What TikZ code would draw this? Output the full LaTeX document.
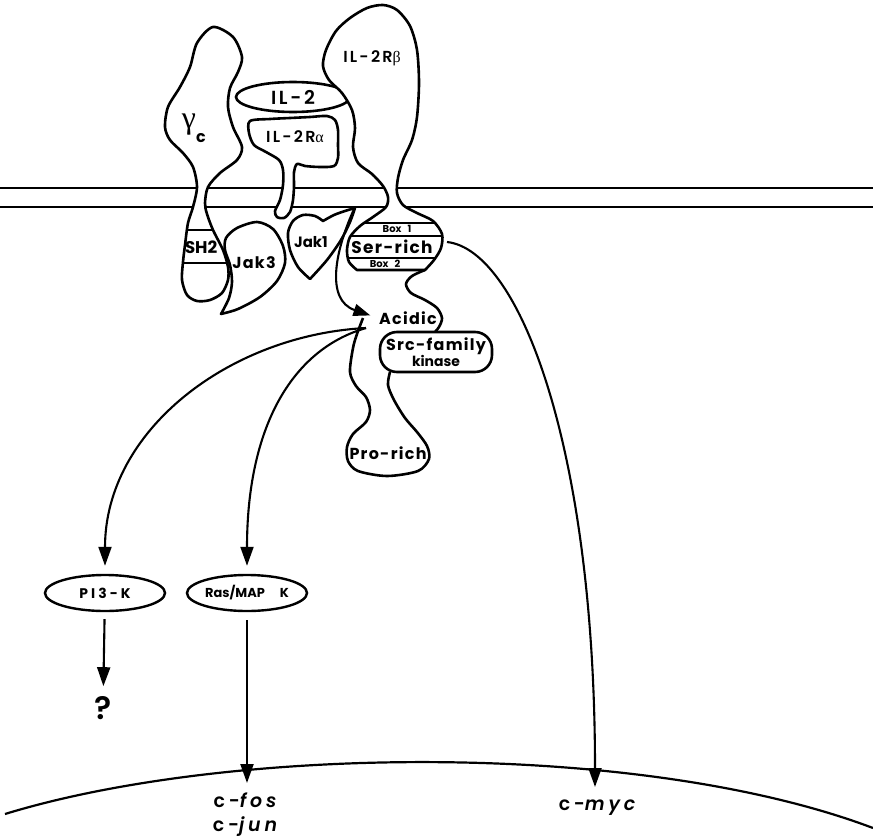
\documentclass[tikz,border=0pt]{standalone}
\usepackage{fontspec}
\setmainfont{Poppins}
\newfontfamily\grk{Liberation Serif}
\newfontfamily\labm{Poppins SemiBold}[LetterSpace=14]
\newfontfamily\labb{Poppins}[LetterSpace=8]
\newfontfamily\labw{Poppins}[LetterSpace=22]
\newfontfamily\labr{Poppins SemiBold}[LetterSpace=20,ItalicFont={Poppins SemiBold Italic}]
\newfontfamily\labq{Poppins SemiBold}
\newcommand\setfs[1]{\fontsize{#1}{#1}\selectfont}
\usetikzlibrary{arrows.meta,shapes.geometric}

\begin{document}
\begin{tikzpicture}[x=1bp,y=-1bp,
  outline/.style={line width=2.6bp,line join=round,fill=white},
  rim/.style={line width=2.6bp,line join=round},
  memb/.style={line width=2.4bp},
  conn/.style={line width=2.1bp,-{Triangle[length=19bp,width=13bp]}},
  lab/.style={inner sep=1bp},
  oval/.style={draw,ellipse,line width=2.4bp,fill=white,inner sep=0pt}]

\useasboundingbox (0,0) rectangle (873,840);

% plasma membrane
\draw[memb] (0,188) -- (873,188);
\draw[memb] (0,207) -- (873,207);

% nuclear envelope
\draw[line width=2.2bp] (5,814) .. controls (230,745) and (640,740) .. (873,828);

% gamma-c chain
\draw[outline] plot[smooth cycle] coordinates {(213,27) (233,37) (242,57) (238,72) (230,88) (228,107) (233,127) (242,147) (237,160) (220,173) (208,187) (205,203) (207,214) (213,230) (223,250) (228,267) (228,280) (222,293) (210,300) (197,301) (187,295) (182,280) (183,262) (185,245) (188,223) (193,207) (197,187) (193,167) (183,153) (170,140) (165,127) (168,107) (180,87) (190,67) (197,43)};
\begin{scope}
  \clip plot[smooth cycle] coordinates {(213,27) (233,37) (242,57) (238,72) (230,88) (228,107) (233,127) (242,147) (237,160) (220,173) (208,187) (205,203) (207,214) (213,230) (223,250) (228,267) (228,280) (222,293) (210,300) (197,301) (187,295) (182,280) (183,262) (185,245) (188,223) (193,207) (197,187) (193,167) (183,153) (170,140) (165,127) (168,107) (180,87) (190,67) (197,43)};
  \draw[line width=2.2bp] (170,230) -- (240,230);
  \draw[line width=2.2bp] (170,263) -- (240,263);
\end{scope}

% Jak3
\draw[outline] plot[smooth] coordinates {(221,314) (229,298) (232,282) (230,265) (225,250) (226,238) (237,228) (257,222) (273,229) (283,246) (285,263) (277,281) (260,297) (238,309) (221,314)} -- cycle;

% IL-2R alpha
\draw[outline] plot[smooth cycle] coordinates {(250,121) (270,119) (290,118) (310,117) (327,116) (335,120) (338,130) (338,145) (338,158) (334,166) (320,167) (305,166) (297,164) (294,172) (294,186) (293,200) (290,212) (284,218) (277,217) (275,211) (280,200) (283,185) (283,170) (279,160) (266,152) (254,145) (249,133)};

% IL-2
\node[oval,line width=2.6bp,minimum width=114bp,minimum height=30bp] (il2) at (293,97)
  {\labm\setfs{19}IL-2};

% IL-2R beta with its Ser-rich region
\draw[outline] plot[smooth] coordinates {(357,270) (349,262) (347,250) (350,237) (360,226) (373,217) (386,207) (388,197) (383,186) (372,174) (358,163) (353,147) (355,128) (352,110) (342,93) (329,80) (323,66) (326,50) (336,31) (350,18) (367,8) (383,5) (397,10) (410,26) (417,50) (419,83) (417,117) (412,140) (403,160) (398,178) (397,193) (403,205) (417,213) (433,221) (442,234) (441,248) (434,260) (425,270)} -- cycle;
\begin{scope}
  \clip plot[smooth] coordinates {(357,270) (349,262) (347,250) (350,237) (360,226) (373,217) (386,207) (388,197) (383,186) (372,174) (358,163) (353,147) (355,128) (352,110) (342,93) (329,80) (323,66) (326,50) (336,31) (350,18) (367,8) (383,5) (397,10) (410,26) (417,50) (419,83) (417,117) (412,140) (403,160) (398,178) (397,193) (403,205) (417,213) (433,221) (442,234) (441,248) (434,260) (425,270)} -- cycle;
  \draw[line width=2.2bp] (330,223) -- (460,223);
  \draw[line width=2.2bp] (330,236) -- (460,236);
  \draw[line width=2.2bp] (330,258) -- (460,258);
\end{scope}
\draw[rim] plot[smooth] coordinates {(425,270) (412,276) (406,284) (411,293) (425,300) (437,308) (442,318) (439,327) (433,334)};

% cytoplasmic tail down to the Pro-rich region
\draw[rim] plot[smooth] coordinates {(363,318) (357,334) (353,348) (350,372) (356,386) (366,397) (370,410) (366,422) (353,434) (347,447) (348,461) (358,471) (387,476) (418,471) (429,459) (427,446) (417,432) (405,418) (394,400) (388,385) (390,372)};

% Jak1
\draw[outline] plot[smooth] coordinates {(310,279) (298,267) (290,250) (288,233) (293,221) (303,215) (315,216) (323,221)}
  -- plot[smooth] coordinates {(323,221) (334,215) (345,211) (355,208)}
  -- plot[smooth] coordinates {(355,208) (350,222) (341,240) (327,260) (310,279)} -- cycle;

% Src-family kinase
\node[draw,rounded corners=17bp,line width=2.6bp,fill=white,minimum width=112bp,minimum height=40bp,inner sep=0pt,align=center] (src) at (436,352)
  {{\labb\bfseries\setfs{16}Src-family}\\[0bp]{\bfseries\setfs{14}kinase}};

% labels
\node[lab] (gam) at (189,125) {\grk\setfs{32}γ};
\node[lab] (gamc) at (201,138) {\bfseries\setfs{16}c};
\node[lab] (il2ra) at (295,137) {\labm\setfs{16}IL-2R{\grk α}};
\node[lab] (il2rb) at (372,58) {\labm\setfs{16}IL-2R{\grk β}};
\node[lab] (sh2) at (201,247) {\bfseries\setfs{17}SH2};
\node[lab] (jak3) at (254,263) {\labb\bfseries\setfs{16}Jak3};
\node[lab] (jak1) at (311,242) {\bfseries\setfs{15}Jak1};
\node[lab] (box1) at (397,229) {\bfseries\setfs{10}Box\hspace{6bp}1};
\node[lab] (ser) at (392,247) {\labb\bfseries\setfs{17}Ser-rich};
\node[lab] (box2) at (385,264) {\bfseries\setfs{10}Box\hspace{6bp}2};
\node[lab] (acidic) at (408,318) {\labb\bfseries\setfs{16}Acidic};
\node[lab] (pro) at (388,453) {\labb\bfseries\setfs{16}Pro-rich};

\node[oval,minimum width=120bp,minimum height=36bp] (pi3k) at (105,593)
  {\labw\bfseries\setfs{14}PI3-K};
\node[oval,minimum width=120bp,minimum height=36bp] (ras) at (247,593)
  {\bfseries\setfs{13}Ras/MAP\hspace{15bp}K};
\node[lab] (q) at (103,708) {\labq\setfs{32}?};

\node[lab] (fos) at (245,800) {\labr\setfs{19}c-{\itshape fos}};
\node[lab] (jun) at (245,827) {\labr\setfs{19}c-{\itshape jun}};
\node[lab] (myc) at (597,808) {\labr\setfs{19}c-{\itshape myc}};

% anchor points for the signalling arrows
\coordinate (j1tip) at (355,207);
\coordinate (ac) at (366,328);
\coordinate (mycstart) at (447,242);
\coordinate (mycend) at (595,787);
\coordinate (fosend) at (247,783);

% signalling arrows
\draw[conn,-{Triangle[length=17bp,width=12bp]},shorten >=8bp] (j1tip) .. controls (335,250) and (325,300) .. (acidic.west);
\draw[conn,shorten >=8bp] (ac) .. controls (230,335) and (105,430) .. (pi3k);
\draw[conn,shorten >=8bp] (ac) .. controls (290,350) and (247,430) .. (ras);
\draw[conn] (mycstart) .. controls (520,250) and (595,450) .. (mycend);
\draw[conn,shorten <=7bp,shorten >=9bp] (pi3k) -- (q);
\draw[conn,shorten <=8bp] (ras) -- (fosend);

\end{tikzpicture}
\end{document}
